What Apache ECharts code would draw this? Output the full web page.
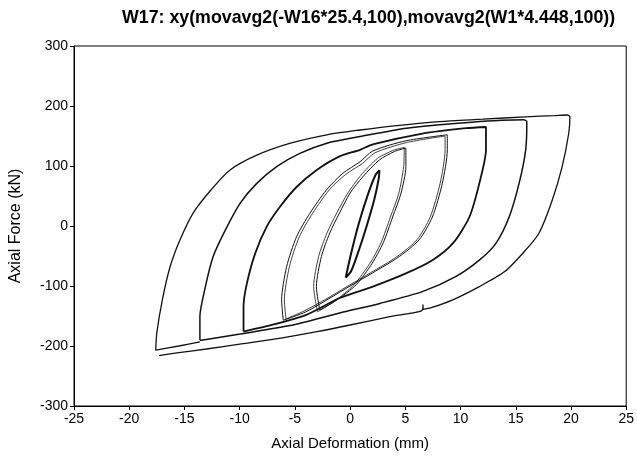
<!DOCTYPE html>
<html>
<head>
<meta charset="utf-8">
<script src="https://cdn.jsdelivr.net/npm/echarts@6/dist/echarts.min.js"></script>
<style>
  html, body { margin: 0; padding: 0; background: #fff; }
  #chart { width: 637px; height: 457px; }
</style>
</head>
<body>
<div id="chart"></div>
<script>
// hysteresis loops, [deformation mm, force kN]
const loop1 = [[-0.4, -86], [0.1, -45], [0.8, 5], [1.6, 52], [2.3, 85], [2.65, 93],
  [2.6, 80], [2.2, 45], [1.5, 0], [0.8, -40], [0.1, -75], [-0.4, -86]];
const loop2 = [[-2.75, -140], [-3.05, -101], [-2.6, -51], [-1.85, -12], [-0.95, 22], [0.0, 55],
  [1.15, 82], [2.65, 110], [4.0, 124], [5.05, 130], [5.05, 99], [4.6, 54], [3.85, 15],
  [3.0, -28], [2.0, -62], [0.55, -98], [-1.25, -124], [-2.75, -140]];
// second cycle at the same amplitude
const loop2b = [[-2.95, -143], [-3.3, -101], [-2.85, -51], [-2.1, -12], [-1.2, 22], [-0.2, 55],
  [0.95, 84], [2.5, 113], [3.9, 126], [4.9, 131], [4.85, 99], [4.4, 54], [3.65, 15],
  [2.8, -28], [1.8, -62], [0.35, -98], [-1.45, -126], [-2.95, -143]];
const loop3 = [[-6.05, -157], [-6.2, -123], [-5.75, -68], [-4.85, -18], [-3.65, 21], [-2.15, 60],
  [-0.65, 88], [0.9, 107], [2.05, 125], [5.05, 142], [8.8, 152], [8.8, 127], [8.35, 71],
  [7.45, 15], [6.25, -23], [4.45, -51], [2.05, -78], [0.0, -100], [-2.0, -122], [-4.0, -143], [-6.05, -157]];
const loop3b = [[-5.8, -155], [-5.95, -123], [-5.5, -68], [-4.6, -18], [-3.4, 21], [-1.9, 60],
  [-0.4, 86], [1.1, 104], [2.25, 122], [5.1, 139], [8.6, 150], [8.6, 127], [8.15, 71],
  [7.25, 15], [6.05, -23], [4.25, -51], [1.85, -78], [-0.2, -100], [-2.2, -122], [-4.1, -141], [-5.8, -155]];
const loop4 = [[-9.65, -176], [-9.65, -134], [-9.35, -96], [-8.6, -46], [-7.55, -1], [-6.35, 32],
  [-4.85, 65], [-3.05, 93], [-0.95, 116], [0.9, 127], [2.05, 136], [6.55, 154], [10.5, 163], [12.3, 165],
  [12.3, 127], [11.7, 71], [10.8, 15], [9.3, -29], [7.45, -57], [5.05, -79], [2.05, -101],
  [-0.95, -120], [-3.95, -148], [-7.55, -167], [-9.65, -176]];
const loop5 = [[-13.6, -190], [-13.6, -151], [-13.1, -101], [-12.4, -51], [-11.3, -7], [-9.95, 38],
  [-8.45, 71], [-6.65, 99], [-4.55, 121], [-2.1, 138], [0.9, 149], [5.1, 163], [11.0, 173], [15.7, 177],
  [16.0, 174], [15.9, 127], [15.3, 71], [14.4, 15], [13.2, -29], [11.7, -57], [9.6, -84], [6.6, -109],
  [2.7, -129], [-0.95, -145], [-5.45, -166], [-9.95, -180], [-13.6, -191]];
const loop6 = [[-13.6, -193], [-15.5, -200], [-17.6, -207], [-17.5, -178], [-17.0, -123], [-16.3, -68],
  [-15.4, -23], [-14.2, 22], [-12.6, 60], [-10.9, 93], [-8.45, 118], [-5.4, 138], [-2.1, 152], [0.9, 160],
  [4.0, 167], [8.1, 174], [12.0, 178], [15.9, 182], [18.5, 184], [19.7, 185], [19.9, 182], [19.8, 155],
  [19.2, 99], [18.3, 43], [17.1, -12], [15.8, -42], [14.0, -76], [11.7, -101], [9.3, -123], [7.2, -137],
  [6.6, -139], [6.6, -131], [6.5, -141], [3.6, -151], [0.0, -165], [-3.0, -176], [-7.0, -189],
  [-10.0, -197], [-13.0, -205], [-15.5, -211], [-17.3, -216]];

const loops = [loop1, loop2, loop2b, loop3, loop3b, loop4, loop5, loop6];
const loopWidths = [2, 1, 0.8, 1, 0.8, 1.8, 1.5, 1.3];

const chart = echarts.init(document.getElementById('chart'));
const font = 'Liberation Sans, Arial, sans-serif';

chart.setOption({
  animation: false,
  title: {
    text: 'W17: xy(movavg2(-W16*25.4,100),movavg2(W1*4.448,100))',
    left: 117,
    top: 4,
    textStyle: { fontFamily: font, fontSize: 17.8, fontWeight: 'bold', color: '#000' }
  },
  grid: { left: 73, right: 9, top: 46, bottom: 51, show: true, borderColor: '#000', borderWidth: 1 },
  xAxis: {
    type: 'value', min: -25, max: 25, interval: 5,
    name: 'Axial Deformation (mm)', nameLocation: 'middle', nameGap: 30,
    nameTextStyle: { fontFamily: font, fontSize: 15, color: '#000' },
    axisLine: { onZero: false, lineStyle: { color: '#000' } },
    axisTick: { length: 4, lineStyle: { color: '#000' } },
    axisLabel: { fontFamily: font, fontSize: 14, color: '#000', margin: 6 },
    splitLine: { show: false }
  },
  yAxis: {
    type: 'value', min: -300, max: 300, interval: 100,
    name: 'Axial Force (kN)', nameLocation: 'middle', nameGap: 50,
    nameTextStyle: { fontFamily: font, fontSize: 16, color: '#000' },
    axisLine: { onZero: false, lineStyle: { color: '#000' } },
    axisTick: { length: 4, lineStyle: { color: '#000' } },
    axisLabel: { fontFamily: font, fontSize: 14, color: '#000', margin: 6 },
    splitLine: { show: false }
  },
  series: loops.map((d, i) => ({
    type: 'line',
    data: d,
    showSymbol: false,
    smooth: 0.25,
    lineStyle: { color: '#111', width: loopWidths[i] }
  }))
});
</script>
</body>
</html>
